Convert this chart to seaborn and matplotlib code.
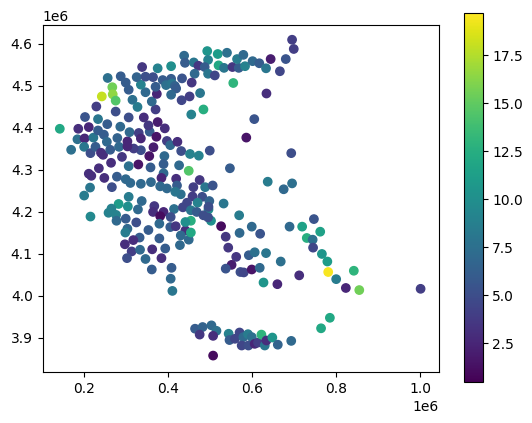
import numpy as np
import pandas as pd
import matplotlib
matplotlib.use("Agg")
import matplotlib.pyplot as plt
from matplotlib.cm import ScalarMappable
from matplotlib.colors import Normalize
import seaborn as sns

# station positions (thousands of map units) and measured value
east = [142,169,184,186,201,200,202,211,215,222,227,229,233,233,242,247,240,245,255,254,262,267,268,275,275,256,287,299,306,315,327,306,286,279,283,290,264,235,306,329,358,355,365,335,318,303,303,308,330,335,356,353,342,375,392,372,370,361,373,346,335,325,346,364,338,375,407,438,440,461,493,518,540,495,472,487,520,533,553,568,463,495,511,555,456,433,407,387,370,395,409,416,419,407,432,451,476,484,455,397,405,422,431,452,473,499,391,389,426,449,547,389,384,419,475,211,217,248,278,299,310,335,359,381,397,421,460,488,506,266,214,200,306,
        282,304,337,328,367,364,389,381,414,406,379,405,418,441,430,449,428,454,454,441,502,526,537,543,562,551,537,215,258,265,276,277,299,324,303,298,353,332,317,297,379,313,333,362,393,302,346,384,361,408,406,410,430,417,458,481,498,445,435,470,454,496,468,484,496,495,569,570,532,572,
        564,579,583,601,617,633,644,680,666,695,699,634,605,586,693,637,695,675,
        599,619,592,606,633,668,580,599,618,627,660,712,689,719,747,762,730,744,745,766,779,781,842,800,823,855,1001,785,764,
        464,482,503,515,475,507,507,544,546,559,570,579,590,599,575,591,606,614,622,630,634,648,661,693]
north = [4397,4347,4372,4397,4374,4354,4425,4401,4339,4376,4354,4450,4420,4393,4474,4383,4340,4335,4408,4366,4347,4496,4479,4464,4438,4518,4522,4507,4490,4466,4449,4424,4402,4375,4354,4330,4316,4303,4308,4312,4305,4332,4353,4346,4350,4355,4367,4389,4387,4374,4390,4405,4424,4413,4398,4378,4443,4462,4480,4484,4502,4520,4521,4520,4544,4541,4546,4571,4554,4555,4582,4575,4578,4561,4547,4544,4548,4542,4544,4542,4528,4528,4524,4506,4507,4517,4516,4513,4497,4501,4505,4499,4493,4478,4465,4474,4482,4443,4431,4368,4358,4366,4344,4337,4333,4345,4332,4313,4310,4297,4303,4291,4280,4278,4275,4290,4285,4280,4283,4277,4268,4266,4270,4260,4255,4262,4258,4258,4262,4258,4257,4238,4235,
         4218,4212,4225,4205,4213,4199,4199,4189,4206,4187,4171,4163,4165,4155,4143,4133,4120,4150,4178,4175,4178,4165,4140,4114,4092,4073,4064,4188,4197,4207,4192,4178,4183,4174,4159,4150,4156,4138,4132,4122,4136,4105,4109,4110,4112,4089,4087,4089,4062,4066,4040,4011,4241,4247,4236,4235,4225,4221,4210,4221,4203,4205,4199,4191,4211,4186,4191,4149,4219,4056,
         4563,4573,4546,4558,4553,4541,4563,4563,4534,4609,4587,4481,4420,4376,4339,4271,4267,4253,
         4164,4147,4096,4103,4101,4081,4055,4062,4066,4031,4027,4048,4164,4164,4182,4152,4137,4133,4114,4099,4081,4056,4059,4039,4018,4013,4016,3947,3922,
         3921,3925,3929,3916,3907,3904,3857,3909,3894,3897,3912,3901,3908,3901,3881,3881,3885,3888,3907,3881,3893,3900,3883,3892]
value = [12,7.5,7.5,3,2.5,8,5.5,2.5,5,8,6,4,8,6,18,6,3,3,6,7,6,15.5,16.5,14.5,5,7.5,6,6,6,7.5,8.5,5,7,6.5,7,3.5,3,3,7.5,1.5,6,1.5,2,5,4,2.5,2.5,7,4,2.5,6,3.5,3,2,3,1.5,4,7,2.5,7,9,6.5,5,5,3.5,9,10,7,6,8,10.5,11,7.5,9,3.5,6,12,8,3.5,6,7,8,4.5,13,3.5,5.5,6,6,6,7.5,8,6.5,6,7,4.5,4,8,12.5,9,4,7,3,5,9,9,5,7,6,7,14.5,6,7,2.5,3,3.5,3,3,3,6,7,7,7,7,7,7,6,4,8,5.5,5,8,8.5,8.5,
         11,10,7,7,3.5,3,2.5,1,7.5,5,7,6,3.5,3,7,7,7,12,12.5,10,10,1,3.5,3.5,3.5,2,5.5,9.5,9,9,9,7,6,5,7,8.5,6,6,3,3,6,4,7,3,6,5,7,3,6,6,7,8,7.5,8,4,5,6.5,4.5,4.5,9,8,10,6,5,5,5,8.5,7,8,5,
         8.5,7,9,7,6,8,2,5.5,4.5,4,4,3,5.5,1.5,5,8.5,7.5,7,
         7,5.5,6,7.5,8,7.5,4.5,1.5,7,10.5,2.5,3,7,11.5,5.5,11.5,12.5,7.5,4.5,10.5,11,19.5,13,8.5,2.5,15.5,4,12,12,
         6,6.5,7,7.5,3.5,3,1,9,6,4.5,4.5,7,8.5,7.5,4.5,5,2.5,4,13,8,3,10.5,6.5,7]

value_min = 0.47
value_max = 19.7
colorbar_ticks = [2.5, 5.0, 7.5, 10.0, 12.5, 15.0, 17.5]

df = pd.DataFrame({"east": np.array(east) * 1e3, "north": np.array(north) * 1e3, "value": value})

W, H = 532, 423
fig = plt.figure(figsize=(W / 100, H / 100), dpi=100)
ax = fig.add_axes([42.5 / W, (H - 372) / H, 396.5 / W, 347.2 / H])
norm = Normalize(value_min, value_max)
sns.scatterplot(data=df, x="east", y="north", hue="value", hue_norm=norm, palette="viridis",
                legend=False, s=36, edgecolor="face", linewidth=1.0, ax=ax)
ax.set_xlim(0.1008e6, 1.0448e6)
ax.set_ylim(3.8180e6, 4.6445e6)
ax.set_aspect("equal", adjustable="box")
ax.set_xlabel("")
ax.set_ylabel("")

cax = fig.add_axes([463.5 / W, (H - 382) / H, 19 / W, 369 / H])
cb = fig.colorbar(ScalarMappable(norm=norm, cmap="viridis"), cax=cax)
cb.set_ticks(colorbar_ticks)
cb.set_ticklabels([f"{t:.1f}" for t in colorbar_ticks])

fig.savefig("out.png", dpi=100)
